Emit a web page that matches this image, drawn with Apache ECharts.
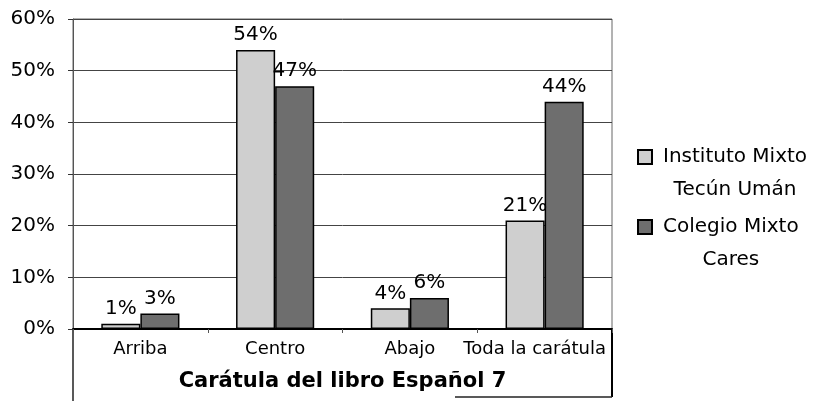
<!DOCTYPE html>
<html>
<head>
<meta charset="utf-8">
<script src="https://cdn.jsdelivr.net/npm/echarts@6/dist/echarts.min.js"></script>
<style>
  html, body { margin: 0; padding: 0; background: #ffffff; }
  #chart { width: 817px; height: 401px; }
</style>
</head>
<body>
<div id="chart"></div>
<script>
// Ubicación de la imagen en la carátula del libro Español 7
const categories = ['Arriba', 'Centro', 'Abajo', 'Toda la carátula'];
const institutoValues = [1, 54, 4, 21];
const colegioValues = [3, 47, 6, 44];
const seriesNames = ['Instituto Mixto\nTecún Umán', 'Colegio Mixto\nCares'];
const axisTitle = 'Carátula del libro Español 7';

const FONT = '"DejaVu Sans", Verdana, sans-serif';

const chart = echarts.init(document.getElementById('chart'), null, { renderer: 'canvas' });

function barSeries(name, values, fill) {
  return {
    name: name,
    type: 'bar',
    data: values,
    barGap: '0%',
    barCategoryGap: '42%',
    itemStyle: { color: fill, borderColor: '#000000', borderWidth: 1.5 },
    label: {
      show: true,
      position: 'top',
      distance: 5,
      formatter: '{c}%',
      color: '#000000',
      fontFamily: FONT,
      fontSize: 20
    }
  };
}

chart.setOption({
  animation: false,
  backgroundColor: '#ffffff',
  textStyle: { fontFamily: FONT, color: '#000000' },
  grid: {
    left: 73, right: 205, top: 19, bottom: 72,
    show: true, borderColor: '#666666', borderWidth: 1
  },
  legend: {
    orient: 'vertical',
    left: 632,
    top: 142,
    itemWidth: 14,
    itemHeight: 14,
    itemGap: 17,
    icon: 'rect',
    data: seriesNames,
    formatter: function (name) {
      return name.split('\n').map(function (s) { return '{c|' + s + '}'; }).join('\n');
    },
    textStyle: {
      fontFamily: FONT,
      fontSize: 20,
      color: '#000000',
      padding: [33, 0, 0, 6],
      rich: {
        c: { align: 'center', fontFamily: FONT, fontSize: 20, lineHeight: 33, color: '#000000' }
      }
    }
  },
  xAxis: {
    type: 'category',
    data: categories,
    axisLine: { show: true, lineStyle: { color: '#000000', width: 2 } },
    axisTick: { show: true, length: 4, lineStyle: { color: '#555555' } },
    axisLabel: {
      interval: 0, fontFamily: FONT, fontSize: 18, color: '#000000', margin: 11,
      // el último rótulo se mantiene dentro del marco de la tabla
      formatter: function (value, index) {
        return index === categories.length - 1 ? '{last|' + value + '}' : value;
      },
      rich: { last: { fontFamily: FONT, fontSize: 18, color: '#000000', padding: [0, 20, 0, 0] } }
    },
    name: axisTitle,
    nameLocation: 'middle',
    nameGap: 42,
    nameTextStyle: { fontFamily: FONT, fontSize: 21, fontWeight: 'bold', color: '#000000' }
  },
  yAxis: {
    type: 'value',
    min: 0,
    max: 60,
    interval: 10,
    axisLine: { show: true, lineStyle: { color: '#555555', width: 1 } },
    axisTick: { show: true, length: 5, lineStyle: { color: '#333333' } },
    axisLabel: { formatter: '{value}%', fontFamily: FONT, fontSize: 20, color: '#000000', margin: 18 },
    splitLine: { show: true, lineStyle: { color: '#444444', width: 1 } }
  },
  graphic: [
    // marco de la tabla bajo el eje de categorías
    { type: 'line', shape: { x1: 73, y1: 329, x2: 73, y2: 401 }, style: { stroke: '#222222', lineWidth: 1.5 } },
    { type: 'line', shape: { x1: 612, y1: 329, x2: 612, y2: 397 }, style: { stroke: '#000000', lineWidth: 2 } },
    { type: 'line', shape: { x1: 455, y1: 397, x2: 612, y2: 397 }, style: { stroke: '#222222', lineWidth: 1.5 } }
  ],
  series: [
    barSeries(seriesNames[0], institutoValues, '#cfcfcf'),
    barSeries(seriesNames[1], colegioValues, '#6e6e6e')
  ]
});
</script>
</body>
</html>
